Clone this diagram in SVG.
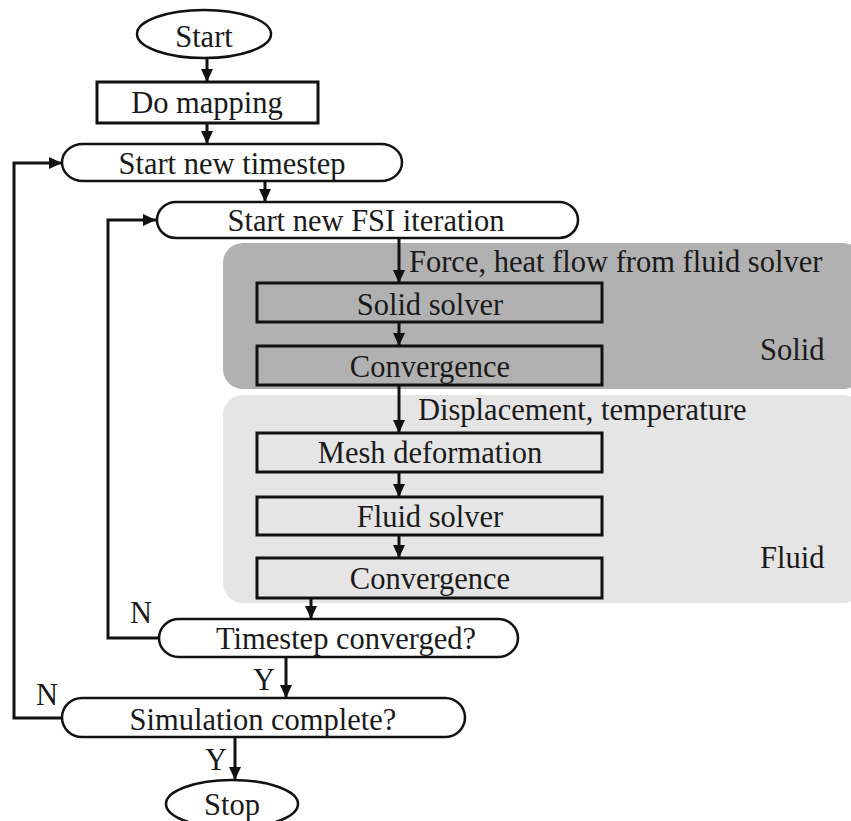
<svg xmlns="http://www.w3.org/2000/svg" width="851" height="821" viewBox="0 0 851 821">
<style>
text{font-family:"Liberation Serif","Times New Roman",serif;font-size:30.5px;fill:#1a1a1a}
.m{text-anchor:middle}
.box{fill:none;stroke:#111;stroke-width:3}
.term{fill:#fff;stroke:#111;stroke-width:2.5}
.ln{fill:none;stroke:#111;stroke-width:3}
</style>
<defs>
<marker id="ah" markerWidth="14" markerHeight="14" viewBox="0 0 14 14" refX="13" refY="7" orient="auto" markerUnits="userSpaceOnUse">
<path d="M0,1 L13,7 L0,13 Z" fill="#111"/>
</marker>
</defs>
<g id="regions">
<rect id="solid-region" x="223" y="243" width="640" height="146" rx="20" fill="#b1b1b1"/>
<rect id="fluid-region" x="223" y="395" width="640" height="208" rx="20" fill="#e5e5e5"/>
<text x="760" y="360">Solid</text>
<text x="760" y="568">Fluid</text>
</g>
<g id="start"><ellipse cx="204" cy="34" rx="67" ry="24" class="term"/><text class="m" x="204" y="47">Start</text></g>
<g id="mapping"><rect x="97" y="82" width="221" height="41" class="box"/><text class="m" x="207" y="113">Do mapping</text></g>
<g id="timestep"><path class="term" d="M83,144 H381 A21,18.5 0 0 1 381,181 H83 A21,18.5 0 0 1 83,144 Z"/><text class="m" x="232" y="174">Start new timestep</text></g>
<g id="fsi"><path class="term" d="M176,202 H559 A19,18 0 0 1 559,238 H176 A19,18 0 0 1 176,202 Z"/><text class="m" x="366" y="231">Start new FSI iteration</text></g>
<g id="solid-solver"><rect x="257" y="283" width="345" height="39" class="box"/><text class="m" x="430" y="315">Solid solver</text></g>
<g id="solid-conv"><rect x="257" y="346" width="345" height="39" class="box"/><text class="m" x="430" y="377">Convergence</text></g>
<g id="mesh"><rect x="257" y="433" width="345" height="39" class="box"/><text class="m" x="430" y="463">Mesh deformation</text></g>
<g id="fluid-solver"><rect x="257" y="497" width="345" height="38" class="box"/><text class="m" x="430" y="527">Fluid solver</text></g>
<g id="fluid-conv"><rect x="257" y="558" width="345" height="40" class="box"/><text class="m" x="430" y="589">Convergence</text></g>
<g id="ts-conv"><path class="term" d="M179,619 H498 A20,19 0 0 1 498,657 H179 A20,19 0 0 1 179,619 Z"/><text class="m" x="346" y="649">Timestep converged?</text></g>
<g id="sim-complete"><path class="term" d="M82,698 H445 A20,19.5 0 0 1 445,737 H82 A20,19.5 0 0 1 82,698 Z"/><text class="m" x="263" y="730">Simulation complete?</text></g>
<g id="stop"><ellipse cx="232" cy="804" rx="66" ry="24" class="term"/><text class="m" x="232" y="815">Stop</text></g>
<g id="connectors">
<line class="ln" x1="207" y1="58" x2="207" y2="82" marker-end="url(#ah)"/>
<line class="ln" x1="207" y1="123" x2="207" y2="144" marker-end="url(#ah)"/>
<line class="ln" x1="265" y1="181" x2="265" y2="202" marker-end="url(#ah)"/>
<line class="ln" x1="399" y1="238" x2="399" y2="283" marker-end="url(#ah)"/>
<line class="ln" x1="399" y1="322" x2="399" y2="346" marker-end="url(#ah)"/>
<line class="ln" x1="399" y1="385" x2="399" y2="433" marker-end="url(#ah)"/>
<line class="ln" x1="399" y1="472" x2="399" y2="497" marker-end="url(#ah)"/>
<line class="ln" x1="399" y1="535" x2="399" y2="558" marker-end="url(#ah)"/>
<line class="ln" x1="311" y1="598" x2="311" y2="619" marker-end="url(#ah)"/>
<line class="ln" x1="286" y1="657" x2="286" y2="698" marker-end="url(#ah)"/>
<line class="ln" x1="235" y1="737" x2="235" y2="780" marker-end="url(#ah)"/>
<polyline class="ln" points="160,638 108,638 108,220 156,220" marker-end="url(#ah)"/>
<polyline class="ln" points="62,718 14,718 14,163 62,163" marker-end="url(#ah)"/>
<text x="409" y="272">Force, heat flow from fluid solver</text>
<text x="418" y="420">Displacement, temperature</text>
<text x="130" y="623">N</text>
<text x="36" y="705">N</text>
<text x="253" y="690">Y</text>
<text x="205" y="770">Y</text>
</g>
</svg>
